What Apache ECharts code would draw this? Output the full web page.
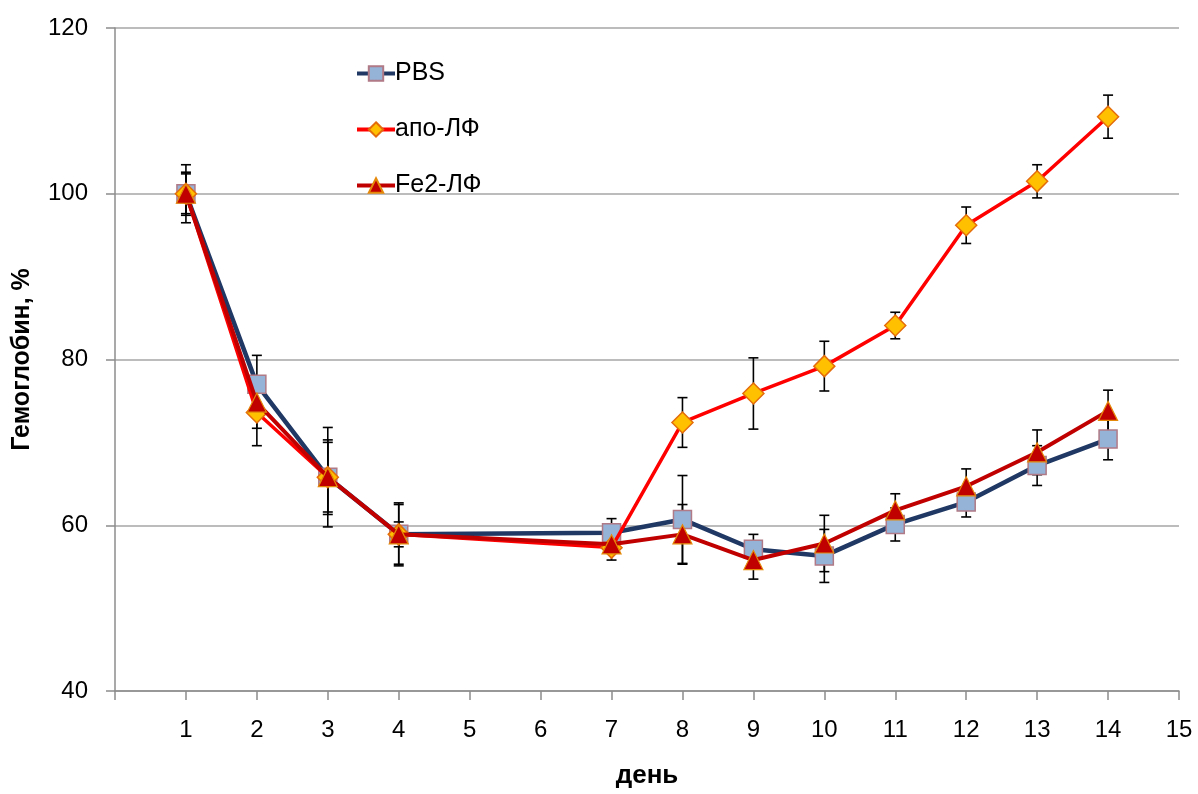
<!DOCTYPE html>
<html>
<head>
<meta charset="utf-8">
<script src="https://cdn.jsdelivr.net/npm/echarts@6/dist/echarts.min.js"></script>
<style>html,body{margin:0;padding:0;background:#fff}#c{width:1198px;height:794px}</style>
</head>
<body>
<div id="c"></div>
<script>
const days = [1, 2, 3, 4, 7, 8, 9, 10, 11, 12, 13, 14];
const pbs = [100, 77.0, 65.8, 58.9, 59.1, 60.7, 57.1, 56.3, 60.1, 62.8, 67.2, 70.4];
const pbsErr = [3.5, 3.5, 6.0, 3.8, 1.7, 5.3, 1.8, 3.2, 2.0, 1.8, 2.4, 2.5];
const apo = [100, 73.6, 65.8, 58.9, 57.3, 72.4, 75.9, 79.2, 84.1, 96.2, 101.5, 109.3];
const apoErr = [2.6, 4.0, 4.2, 3.6, 1.5, 3.0, 4.3, 3.0, 1.6, 2.2, 2.0, 2.6];
const fe2 = [100, 74.8, 65.8, 58.9, 57.7, 58.9, 55.8, 57.8, 61.8, 64.7, 68.8, 73.8];
const fe2Err = [2.4, 3.1, 4.5, 1.5, 1.0, 3.6, 2.3, 3.4, 2.0, 2.1, 2.7, 2.5];
const seriesNames = ['PBS', 'апо-ЛФ', 'Fe2-ЛФ'];
const xTicks = [1, 2, 3, 4, 5, 6, 7, 8, 9, 10, 11, 12, 13, 14, 15];

const font = "'Liberation Sans', Arial, sans-serif";
function pts(vals) { return days.map((d, i) => [d, vals[i]]); }
function errPts(vals, errs) { return days.map((d, i) => [d, vals[i], errs[i]]); }

function errRender(params, api) {
  const x = api.value(0), v = api.value(1), e = api.value(2);
  const hi = api.coord([x, v + e]);
  const lo = api.coord([x, v - e]);
  const w = 5;
  const st = { stroke: '#000', lineWidth: 1.6 };
  return {
    type: 'group',
    children: [
      { type: 'line', shape: { x1: hi[0], y1: hi[1], x2: lo[0], y2: lo[1] }, style: st },
      { type: 'line', shape: { x1: hi[0] - w, y1: hi[1], x2: hi[0] + w, y2: hi[1] }, style: st },
      { type: 'line', shape: { x1: lo[0] - w, y1: lo[1], x2: lo[0] + w, y2: lo[1] }, style: st }
    ]
  };
}

const chart = echarts.init(document.getElementById('c'), null, { renderer: 'canvas' });
chart.setOption({
  animation: false,
  backgroundColor: '#fff',
  textStyle: { fontFamily: font },
  grid: { left: 115, right: 19, top: 28, bottom: 96 },
  legend: {
    data: [
      { name: seriesNames[0], lineStyle: { width: 4 } },
      { name: seriesNames[1], lineStyle: { width: 4 } },
      { name: seriesNames[2], lineStyle: { width: 4 } }
    ],
    orient: 'vertical',
    left: 350,
    top: 56,
    itemWidth: 38,
    itemHeight: 18,
    itemGap: 31,
    textStyle: { fontSize: 25, color: '#000', fontFamily: font, padding: [0, 0, 0, -5] }
  },
  xAxis: {
    type: 'value',
    min: 0, max: 15, interval: 1,
    name: 'день',
    nameLocation: 'middle',
    nameGap: 72,
    nameTextStyle: { fontSize: 26, fontWeight: 'bold', color: '#000', fontFamily: font },
    axisLine: { lineStyle: { color: '#8c8c8c', width: 1.5 } },
    axisTick: { length: 9, lineStyle: { color: '#8c8c8c', width: 1.5 } },
    axisLabel: {
      fontSize: 24, color: '#000', margin: 27, fontFamily: font,
      formatter: v => (xTicks.indexOf(v) >= 0 ? String(v) : '')
    },
    splitLine: { show: false }
  },
  yAxis: {
    type: 'value',
    min: 40, max: 120, interval: 20,
    name: 'Гемоглобин, %',
    nameLocation: 'middle',
    nameGap: 80,
    nameRotate: 90,
    nameTextStyle: { fontSize: 25, fontWeight: 'bold', color: '#000', fontFamily: font },
    axisLine: { show: true, lineStyle: { color: '#8c8c8c', width: 1.5 } },
    axisTick: { show: true, length: 9, lineStyle: { color: '#8c8c8c', width: 1.5 } },
    axisLabel: { fontSize: 24, color: '#000', margin: 27, fontFamily: font },
    splitLine: { lineStyle: { color: '#a6a6a6', width: 1.5 } }
  },
  series: [
    { name: 'errPBS', type: 'custom', renderItem: errRender, data: errPts(pbs, pbsErr), encode: { x: 0, y: 1 }, z: 1 },
    { name: 'errApo', type: 'custom', renderItem: errRender, data: errPts(apo, apoErr), encode: { x: 0, y: 1 }, z: 1 },
    { name: 'errFe2', type: 'custom', renderItem: errRender, data: errPts(fe2, fe2Err), encode: { x: 0, y: 1 }, z: 1 },
    {
      name: seriesNames[0], type: 'line', data: pts(pbs), z: 3,
      symbol: 'rect', symbolSize: 18,
      lineStyle: { color: '#1f3864', width: 4.5 },
      itemStyle: { color: '#95b3d7', borderColor: '#b07a86', borderWidth: 1.5 }
    },
    {
      name: seriesNames[1], type: 'line', data: pts(apo), z: 4,
      symbol: 'diamond', symbolSize: 21,
      lineStyle: { color: '#ff0000', width: 3.5 },
      itemStyle: { color: '#ffc000', borderColor: '#e46c0a', borderWidth: 1.5 }
    },
    {
      name: seriesNames[2], type: 'line', data: pts(fe2), z: 5,
      symbol: 'triangle', symbolSize: 19,
      lineStyle: { color: '#c00000', width: 4 },
      itemStyle: { color: '#c00000', borderColor: '#e4890a', borderWidth: 1.2 }
    }
  ]
});
</script>
</body>
</html>
